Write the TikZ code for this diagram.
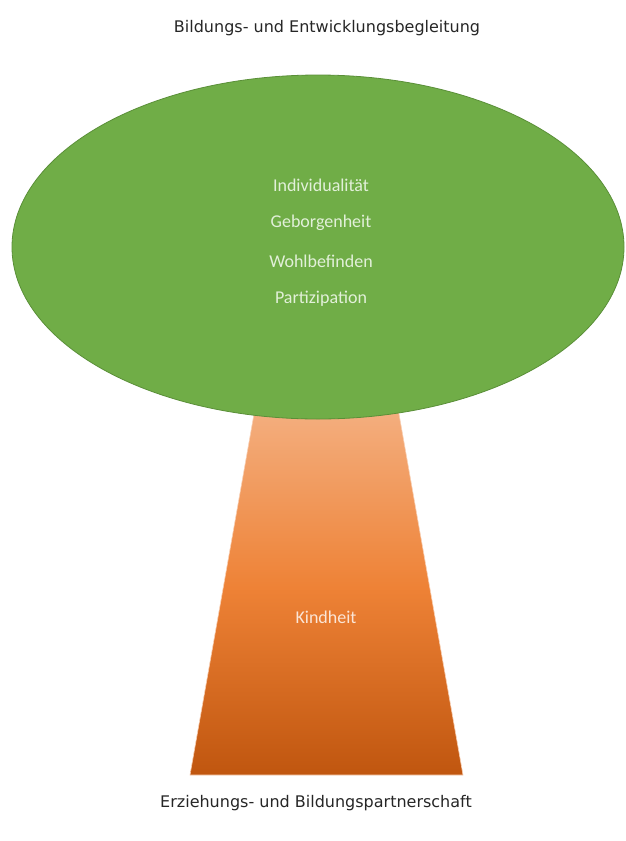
\documentclass[tikz,border=0pt]{standalone}
\usepackage{fontspec}
\usetikzlibrary{shapes.geometric}
\setmainfont{Carlito}
\newfontfamily\titlefont{DejaVu Sans}
\definecolor{leaf}{HTML}{70AD47}
\definecolor{leafline}{HTML}{5A8F38}
\definecolor{leaftext}{HTML}{E2F0D9}
\definecolor{trunktop}{HTML}{F4B183}
\definecolor{trunkmid}{HTML}{EE8236}
\definecolor{trunkbot}{HTML}{C0560F}
\definecolor{trunktext}{HTML}{FBE5D6}
\begin{document}
\begin{tikzpicture}[x=1pt,y=-1pt,
  caption/.style={font=\titlefont\fontsize{16}{19}\selectfont, text=black!85},
  leaflabel/.style={font=\fontsize{18}{21}\selectfont, text=leaftext},
  trunklabel/.style={font=\fontsize{18}{21}\selectfont, text=trunktext}]
\useasboundingbox (0,0) rectangle (625,841);
% trunk
\shade[top color=trunktop, bottom color=trunkbot, middle color=trunkmid, draw=trunktop!60, line width=0.6pt]
  (256.5,400) -- (396.5,400) -- (463,775) -- (190,775) -- cycle;
% crown
\node[ellipse, draw=leafline, fill=leaf, line width=0.8pt, minimum width=612pt, minimum height=344pt, inner sep=0pt] (crown) at (318,247) {};
\node[leaflabel] (l1) at (321,185) {Individualität};
\node[leaflabel] (l2) at (321,223) {Geborgenheit};
\node[leaflabel] (l3) at (321,261) {Wohlbefinden};
\node[leaflabel] (l4) at (321,299) {Partizipation};
\node[trunklabel] (kind) at (326,617) {Kindheit};
\node[caption] (top) at (327,28) {Bildungs- und Entwicklungsbegleitung};
\node[caption] (bottom) at (316,803) {Erziehungs- und Bildungspartnerschaft};
\end{tikzpicture}
\end{document}
